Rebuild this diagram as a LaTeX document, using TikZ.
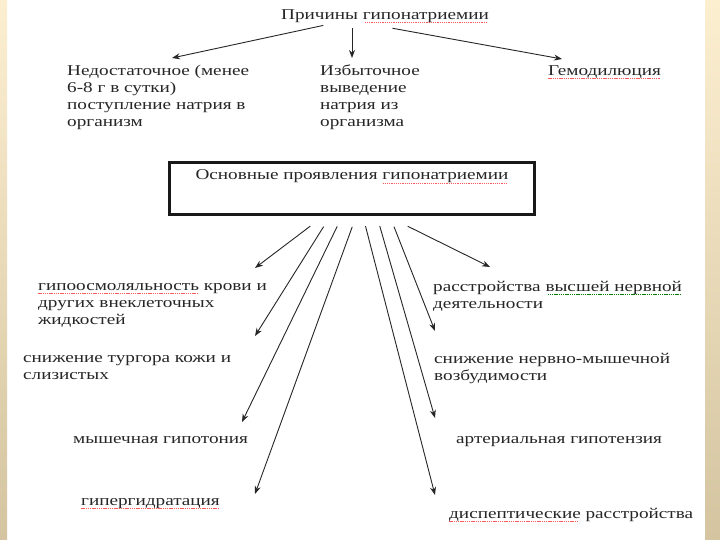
\documentclass[tikz,border=0pt]{standalone}
\usepackage{fontspec}
\setmainfont[FakeStretch=1.28]{Liberation Serif}
\usepackage{xcolor}
\usepackage{tikz}
\usetikzlibrary{arrows.meta}

\definecolor{slideTop}{RGB}{252,239,208}
\definecolor{slideBot}{RGB}{212,196,160}
\definecolor{ink}{RGB}{38,38,38}

% spell-check marks under some words
\newsavebox\spellbox
\newcommand\spellmark[2]{\sbox\spellbox{#2}\rlap{\usebox\spellbox}%
  {\color{#1}\leaders\hbox{\rule[-3.4pt]{1.3pt}{0.7pt}\kern0.9pt}\hskip\wd\spellbox}}
\newcommand\redwave[1]{\spellmark{red!65}{#1}}
\newcommand\greenwave[1]{\spellmark{green!50!black}{#1}}

\begin{document}
\begin{tikzpicture}[x=1pt, y=-1pt,
    txt/.style={anchor=north west, inner sep=0pt, align=left, text=ink,
      font=\fontsize{15}{17}\selectfont, execute at begin node=\strut},
    head/.style={anchor=base, inner sep=0pt, text=ink, font=\fontsize{15}{17}\selectfont},
    mainbox/.style={draw=black!90, line width=3pt, inner sep=0pt, minimum width=365pt,
      text height=17pt, text depth=35pt, text=ink, font=\fontsize{15}{17}\selectfont},
    arr/.style={-{Stealth[length=8pt,width=6pt]}, line width=0.9pt, draw=ink}]

    % Slide background
    \useasboundingbox (0,0) rectangle (720,540);
    \fill[white] (0,0) rectangle (720,540);
    \shade[top color=slideTop, bottom color=slideBot] (0,0) rectangle (7,540);
    \shade[top color=slideTop, bottom color=slideBot] (705,0) rectangle (720,540);

    % Causes
    \node[head] (title) at (385,19.5) {Причины \redwave{гипонатриемии}};

    \node[txt] (lack) at (67,65) {Недостаточное (менее\\6-8 г в сутки)\\поступление натрия в\\организм};
    \node[txt] (excr) at (320,65) {Избыточное\\выведение\\натрия из\\организма};
    \node[txt] (hemo) at (548,63) {\redwave{Гемодилюция}};

    \coordinate (cLack) at (172,58);
    \coordinate (cExcr) at (352,58);
    \coordinate (cHemo) at (562,59);

    \draw[arr, shorten <=11pt] ([xshift=-51pt]title.south) -- (cLack);
    \draw[arr, shorten <=5pt]  ([xshift=-33pt]title.south) -- (cExcr);
    \draw[arr, shorten <=29pt] ([xshift=-21pt]title.south) -- (cHemo);

    % Main box
    \node[mainbox, anchor=north] (box) at (352,161.5) {Основные проявления \redwave{гипонатриемии}};

    % Manifestations, left column
    \node[txt] (osm)   at (38,283)  {\redwave{гипоосмоляльность} крови и\\других внеклеточных\\жидкостей};
    \node[txt] (turg)  at (23,355)  {снижение тургора кожи и\\слизистых};
    \node[txt] (myo)   at (73,431)  {мышечная гипотония};
    \node[txt] (hyper) at (81,493)  {\redwave{гипергидратация}};

    % Manifestations, right column
    \node[txt] (cns)   at (433,281) {расстройства \greenwave{высшей нервной}\\деятельности};
    \node[txt] (neuro) at (434,353) {снижение нервно-мышечной\\возбудимости};
    \node[txt] (art)   at (456,431) {артериальная гипотензия};
    \node[txt] (dysp)  at (449,506) {\redwave{диспептические} расстройства};

    % Arrow ends
    \coordinate (eOsm)   at (255,268);
    \coordinate (eTurg)  at (255,336);
    \coordinate (eMyo)   at (242,422);
    \coordinate (eHyper) at (255,494);
    \coordinate (eDysp)  at (435,495);
    \coordinate (eArt)   at (435,418);
    \coordinate (eNeuro) at (435,331);
    \coordinate (eCns)   at (490,267);

    \draw[arr, shorten <=16pt] ([xshift=-29pt]box.south) -- (eOsm);
    \draw[arr, shorten <=12pt] ([xshift=-22pt]box.south) -- (eTurg);
    \draw[arr, shorten <=11pt] ([xshift=-10pt]box.south) -- (eMyo);
    \draw[arr, shorten <=11pt] ([xshift=4pt]box.south)   -- (eHyper);
    \draw[arr, shorten <=10pt] ([xshift=11pt]box.south)  -- (eDysp);
    \draw[arr, shorten <=10pt] ([xshift=25pt]box.south)  -- (eArt);
    \draw[arr, shorten <=11pt] ([xshift=38pt]box.south)  -- (eNeuro);
    \draw[arr, shorten <=22pt] ([xshift=36pt]box.south)  -- (eCns);

\end{tikzpicture}
\end{document}
